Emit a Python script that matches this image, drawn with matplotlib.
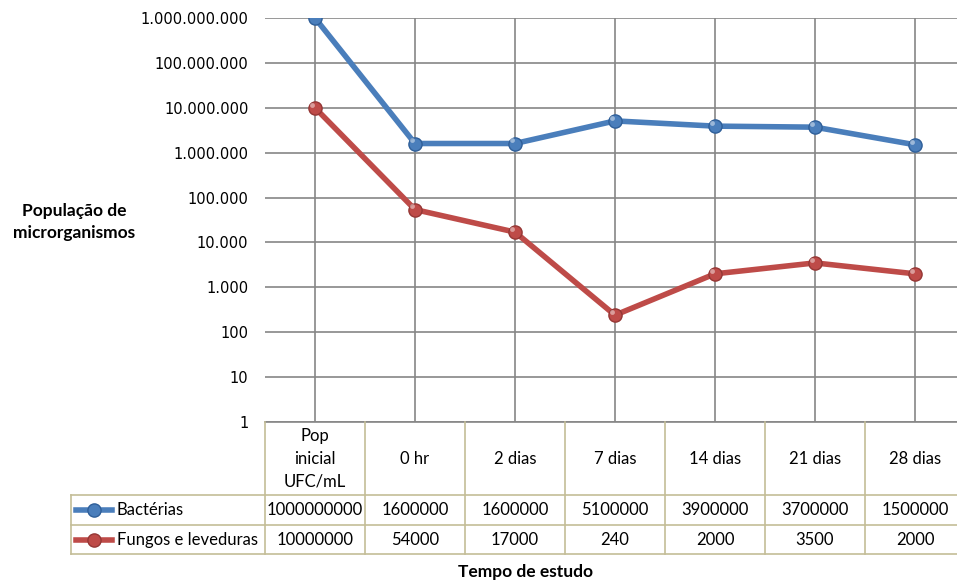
import numpy as np
import matplotlib.pyplot as plt
from matplotlib.ticker import FixedLocator, FuncFormatter
from matplotlib.transforms import blended_transform_factory

# tempos de amostragem e contagens (UFC/mL)
tempos = ["Pop\ninicial\nUFC/mL", "0 hr", "2 dias", "7 dias", "14 dias", "21 dias", "28 dias"]
bacterias = [1000000000, 1600000, 1600000, 5100000, 3900000, 3700000, 1500000]
fungos = [10000000, 54000, 17000, 240, 2000, 3500, 2000]
series = ["Bactérias", "Fungos e leveduras"]

azul = "#4a7ebb"
vermelho = "#be4b48"
cinza = "#868686"
borda = "#c4bd97"

W, H = 957, 583
fig = plt.figure(figsize=(W / 100, H / 100), dpi=100)

# area de plotagem em pixels: x 265..965, y 18..422 (a partir do topo)
ax = fig.add_axes([265 / W, (H - 422) / H, 700 / W, 404 / H])
x = np.arange(len(tempos))

for vals, cor, borda_m in [(bacterias, azul, "#2f5f99"), (fungos, vermelho, "#953735")]:
    ax.plot(x, vals, color=cor, lw=4, solid_capstyle="round", zorder=3)
    ax.plot(x, vals, ls="none", marker="o", ms=9.5, mfc=cor, mec=borda_m, mew=1, zorder=4)
    # brilho das esferas
    ax.plot(x - 0.03, np.array(vals) * 1.18, ls="none", marker="o", ms=3.5,
            mfc="white", mec="none", alpha=0.45, zorder=5)

ax.set_yscale("log")
ax.set_ylim(1, 1e9)
ax.set_xlim(-0.5, len(tempos) - 0.5)
ax.yaxis.set_major_locator(FixedLocator([10 ** k for k in range(10)]))
ax.yaxis.set_minor_locator(FixedLocator([]))
ax.yaxis.set_major_formatter(FuncFormatter(lambda v, p: f"{int(round(v)):,}".replace(",", ".")))
ax.set_xticks(x)
ax.set_xticklabels([])
ax.tick_params(axis="both", length=0)
ax.tick_params(axis="y", pad=12, labelsize=10.5, labelcolor="black")
ax.grid(True, color=cinza, lw=1.2)
for s in ["top", "right", "left"]:
    ax.spines[s].set_visible(False)
ax.spines["bottom"].set_color(cinza)
ax.spines["bottom"].set_linewidth(1.2)
ax.set_axisbelow(True)

# tabela de dados abaixo do grafico
tr = blended_transform_factory(ax.transData, fig.transFigure)
fy = lambda py: (H - py) / H
fx = lambda px: px / W
fonte = dict(family="Lato", fontsize=12, color="black")

# linhas horizontais da tabela
for py, x0 in [(495, 71), (525, 71), (554, 71)]:
    fig.add_artist(plt.Line2D([fx(x0), 1], [fy(py), fy(py)], color=borda, lw=1.2))
fig.add_artist(plt.Line2D([fx(71), fx(71)], [fy(495), fy(554)], color=borda, lw=1.2))
for k in range(len(tempos) + 1):
    ax_x = k - 0.5
    fig.add_artist(plt.Line2D([ax_x, ax_x], [fy(422), fy(554)], color=borda, lw=1.2,
                              transform=tr))

for i, t in enumerate(tempos):
    ax.text(i, fy(459), t, transform=tr, ha="center", va="center",
            linespacing=1.5, **fonte)
    ax.text(i, fy(510), str(bacterias[i]), transform=tr, ha="center", va="center", **fonte)
    ax.text(i, fy(540), str(fungos[i]), transform=tr, ha="center", va="center", **fonte)

# legenda dentro da tabela
for nome, cor, borda_m, py in [(series[0], azul, "#2f5f99", 510), (series[1], vermelho, "#953735", 540)]:
    fig.add_artist(plt.Line2D([fx(76), fx(112)], [fy(py), fy(py)], color=cor, lw=4))
    fig.add_artist(plt.Line2D([fx(94)], [fy(py)], ls="none", marker="o", ms=9.5,
                              mfc=cor, mec=borda_m, mew=1))
    fig.text(fx(117), fy(py), nome, ha="left", va="center", **fonte)

fig.text(fx(74), fy(222), "População de\nmicrorganismos", ha="center", va="center",
         family="Lato", fontsize=12.5, fontweight="bold", linespacing=1.45)
fig.text(fx(525), fy(572), "Tempo de estudo", ha="center", va="center",
         family="Lato", fontsize=12.5, fontweight="bold")

fig.savefig("out.png", dpi=100)
